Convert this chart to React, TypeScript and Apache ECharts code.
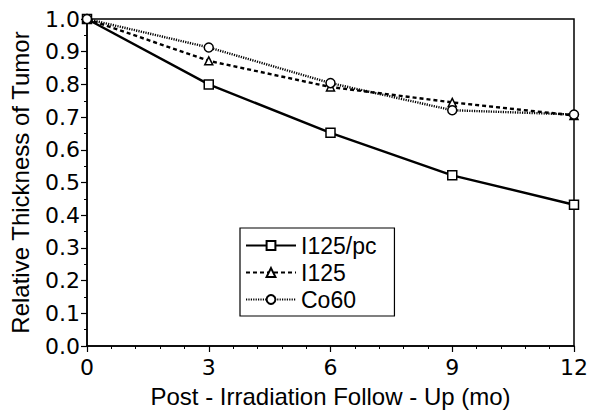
import React, { useEffect, useRef } from "react";
import * as echarts from "echarts";

const months = [0, 3, 6, 9, 12];
const seriesNames = ["I125/pc", "I125", "Co60"];
const i125pc = [1.0, 0.8, 0.652, 0.522, 0.432];
const i125 = [1.0, 0.872, 0.792, 0.745, 0.705];
const co60 = [1.0, 0.913, 0.804, 0.721, 0.708];
const xTicks = [0, 3, 6, 9, 12];
const yTicks = [0, 0.1, 0.2, 0.3, 0.4, 0.5, 0.6, 0.7, 0.8, 0.9, 1.0];

const FONT = "'Liberation Sans', Arial, Helvetica, sans-serif";
const TICKFONT = "'DejaVu Sans', 'Liberation Sans', sans-serif";

export default function App() {
  const ref = useRef<HTMLDivElement>(null);
  useEffect(() => {
    if (!ref.current) return;
    const chart = echarts.init(ref.current, undefined, { renderer: "svg" });
    const pair = (ys: number[]) => months.map((m, i) => [m, ys[i]]);
    const common = {
      type: "line",
      symbolSize: 9,
      itemStyle: { color: "#fff", borderColor: "#000", borderWidth: 1.5 },
      z: 3,
    };
    chart.setOption({
      animation: false,
      backgroundColor: "#fff",
      textStyle: { fontFamily: FONT, color: "#000" },
      grid: {
        left: 85,
        right: 24,
        top: 19,
        bottom: 65,
        show: true,
        borderColor: "#000",
        borderWidth: 1.5,
      },
      legend: {
        data: seriesNames,
        orient: "vertical",
        left: 240,
        top: 228,
        backgroundColor: "#fff",
        borderColor: "#000",
        borderWidth: 1.2,
        borderRadius: 0,
        padding: [4, 18, 3, 5],
        itemWidth: 50,
        itemHeight: 11,
        itemGap: 0,
        textStyle: { fontFamily: FONT, fontSize: 23, color: "#000", lineHeight: 27 },
      },
      xAxis: {
        type: "value",
        min: xTicks[0],
        max: xTicks[xTicks.length - 1],
        interval: 3,
        name: "Post - Irradiation Follow - Up (mo)",
        nameLocation: "middle",
        nameGap: 38,
        nameTextStyle: { fontFamily: FONT, fontSize: 24, color: "#000" },
        axisLine: { onZero: false, lineStyle: { color: "#000", width: 1.5 } },
        axisTick: { inside: false, length: 6, lineStyle: { color: "#000", width: 1.2 } },
        minorTick: { show: true, splitNumber: 5, length: 3, lineStyle: { color: "#000", width: 1 } },
        axisLabel: { margin: 10, fontSize: 22, color: "#000", fontFamily: TICKFONT },
        splitLine: { show: false },
      },
      yAxis: {
        type: "value",
        min: yTicks[0],
        max: yTicks[yTicks.length - 1],
        interval: 0.1,
        name: "Relative Thickness of Tumor",
        nameLocation: "middle",
        nameGap: 55,
        nameTextStyle: { fontFamily: FONT, fontSize: 24, color: "#000" },
        axisLine: { onZero: false, lineStyle: { color: "#000", width: 1.5 } },
        axisTick: { inside: false, length: 6, lineStyle: { color: "#000", width: 1.2 } },
        minorTick: { show: true, splitNumber: 2, length: 3, lineStyle: { color: "#000", width: 1 } },
        axisLabel: {
          margin: 7,
          fontSize: 22,
          color: "#000",
          fontFamily: TICKFONT,
          formatter: (v: number) => v.toFixed(1),
        },
        splitLine: { show: false },
      },
      series: [
        {
          ...common,
          name: seriesNames[0],
          data: pair(i125pc),
          symbol: "rect",
          lineStyle: { color: "#000", width: 2.4, type: "solid" },
        },
        {
          ...common,
          name: seriesNames[1],
          data: pair(i125),
          symbol: "triangle",
          symbolSize: 8,
          lineStyle: { color: "#000", width: 2.4, type: [4, 3] },
        },
        {
          ...common,
          name: seriesNames[2],
          data: pair(co60),
          symbol: "circle",
          lineStyle: { color: "#000", width: 2.4, type: [1.2, 1.2] },
        },
      ],
    });
    return () => chart.dispose();
  }, []);
  return <div ref={ref} style={{ width: 598, height: 413, position: "absolute", left: 0, top: 0 }} />;
}
